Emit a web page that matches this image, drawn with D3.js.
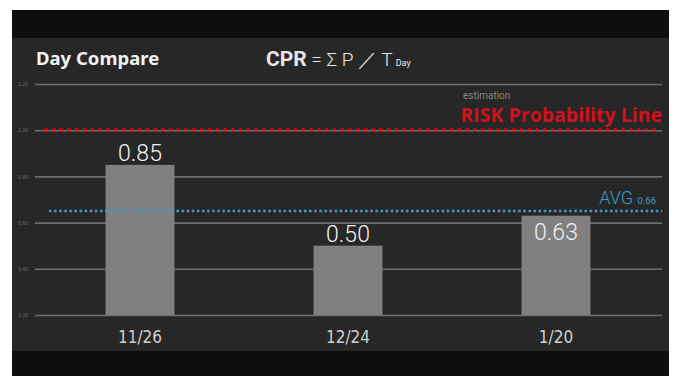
<!DOCTYPE html>
<html>
<head>
<meta charset="utf-8">
<script src="https://cdn.jsdelivr.net/npm/d3@7"></script>
<style>
  html, body { margin: 0; padding: 0; background: #fff; }
  svg { display: block; }
</style>
</head>
<body>
<svg id="chart"></svg>
<script>
const width = 676
const height = 376

// data
const days = ['11/26', '12/24', '1/20']
const cpr = [0.85, 0.50, 0.63]
const yTicks = [0.20, 0.40, 0.60, 0.80, 1.00, 1.20]
const riskLevel = 1.00
const avgLevel = 0.65
const avgLabel = '0.66'

const frame = {left: 12, right: 669, top: 10, bottom: 376}
const panel = {top: 38, bottom: 351}

const svg = d3.select('#chart')
    .attr('width', width)
    .attr('height', height)
    .style('font-family', 'Roboto, "Noto Sans", sans-serif')

// black frame + dark panel
svg.append('rect')
    .attr('x', frame.left).attr('y', frame.top)
    .attr('width', frame.right - frame.left).attr('height', frame.bottom - frame.top)
    .attr('fill', '#0e0e0e')

svg.append('rect')
    .attr('x', frame.left).attr('y', panel.top)
    .attr('width', frame.right - frame.left).attr('height', panel.bottom - panel.top)
    .attr('fill', '#272727')

const y = d3.scaleLinear()
    .domain([0.20, 1.20])
    .range([315, 84])

const x = d3.scalePoint()
    .domain(days)
    .range([36, 660])
    .padding(0.5)

const barW = 69

// grid / y axis
const yAxis = svg.append('g')
    .attr('transform', 'translate(35,0)')
    .call(d3.axisLeft(y).tickValues(yTicks).tickFormat(d3.format('.2f')).tickSize(0).tickPadding(7))

yAxis.select('.domain').remove()
yAxis.selectAll('.tick text')
    .attr('fill', '#6a6a6a')
    .style('font-size', '5px')
yAxis.selectAll('.tick').append('line')
    .attr('x1', 0).attr('x2', 627)
    .attr('stroke', '#6e6e6e')
    .attr('stroke-width', 1.6)

// bars
svg.append('g')
    .selectAll('rect')
    .data(cpr)
    .join('rect')
    .attr('x', (d, i) => x(days[i]) - barW / 2)
    .attr('y', d => y(d))
    .attr('width', barW)
    .attr('height', d => y(0.20) - y(d))
    .attr('fill', '#808080')

// risk line
svg.append('line')
    .attr('x1', 44).attr('x2', 660)
    .attr('y1', y(riskLevel)).attr('y2', y(riskLevel))
    .attr('stroke', '#d3111c')
    .attr('stroke-width', 3.5)
    .attr('stroke-dasharray', '3.5 4.3')

svg.append('text')
    .attr('x', 662).attr('y', 122)
    .attr('text-anchor', 'end')
    .attr('fill', '#d3111c')
    .style('font-family', '"Open Sans", "Noto Sans", sans-serif')
    .style('font-size', '19.5px')
    .style('font-weight', 'bold')
    .text('RISK Probability Line')

svg.append('text')
    .attr('x', 463).attr('y', 99)
    .attr('fill', '#858585')
    .style('font-size', '10px')
    .text('estimation')

// average line
svg.append('line')
    .attr('x1', 49).attr('x2', 662)
    .attr('y1', y(avgLevel)).attr('y2', y(avgLevel))
    .attr('stroke', '#3d9bd0')
    .attr('stroke-width', 2.5)
    .attr('stroke-dasharray', '2.5 2.6')

const avgText = svg.append('text')
    .attr('x', 656).attr('y', 204)
    .attr('text-anchor', 'end')
    .attr('fill', '#3d9bd0')
    .style('font-size', '18px')
    .style('font-weight', '300')
avgText.append('tspan').text('AVG ')
avgText.append('tspan').style('font-size', '9.5px').style('font-weight', '400').text(avgLabel)

// value labels: above the bar, inside when it would sit on the avg line
svg.append('g')
    .selectAll('text')
    .data(cpr)
    .join('text')
    .attr('x', (d, i) => x(days[i]))
    .attr('y', d => Math.abs(d - avgLevel) < 0.05 ? y(d) + 24 : y(d) - 4)
    .attr('text-anchor', 'middle')
    .attr('fill', '#f0f0f0')
    .style('font-size', '23px')
    .style('font-weight', '300')
    .text(d => d.toFixed(2))

// x labels
svg.append('g')
    .selectAll('text')
    .data(days)
    .join('text')
    .attr('x', d => x(d))
    .attr('y', 343)
    .attr('text-anchor', 'middle')
    .attr('fill', '#cfcfcf')
    .style('font-family', '"DejaVu Sans Condensed", "Liberation Sans Narrow", sans-serif')
    .style('font-size', '17px')
    .style('font-weight', '300')
    .text(d => d)

// titles
svg.append('text')
    .attr('x', 36).attr('y', 65)
    .attr('fill', '#f2f2f2')
    .style('font-family', '"Noto Sans", sans-serif')
    .style('font-size', '18.5px')
    .style('font-weight', 'bold')
    .text('Day Compare')

const formula = svg.append('text')
    .attr('x', 266).attr('y', 66)
    .attr('fill', '#e6e6e6')
    .style('font-size', '19px')
formula.append('tspan').style('font-size', '21px').style('font-weight', 'bold').text('CPR')
formula.append('tspan').style('font-weight', '300').text(' = Σ P ／ T')
formula.append('tspan').style('font-size', '9px').attr('dx', 3).text('Day')
</script>
</body>
</html>
